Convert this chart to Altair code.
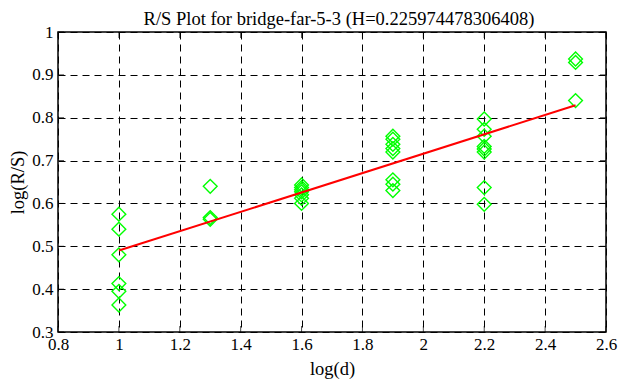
import altair as alt
import pandas as pd

# R/S points per log(d) group
d_groups = [1.0, 1.3, 1.6, 1.9, 2.2, 2.5]
rs_values = [
    [0.575, 0.540, 0.480, 0.413, 0.395, 0.363],
    [0.640, 0.567, 0.563],
    [0.643, 0.637, 0.632, 0.627, 0.620, 0.612, 0.600],
    [0.757, 0.750, 0.738, 0.728, 0.720, 0.655, 0.645, 0.630],
    [0.797, 0.773, 0.757, 0.733, 0.727, 0.720, 0.637, 0.598],
    [0.937, 0.929, 0.840],
]
# fitted line endpoints
fit_x = [1.0, 2.5]
fit_y = [0.490, 0.829]

x_ticks = [0.8, 1.0, 1.2, 1.4, 1.6, 1.8, 2.0, 2.2, 2.4, 2.6]
y_ticks = [0.3, 0.4, 0.5, 0.6, 0.7, 0.8, 0.9, 1.0]
title_text = ["R/S Plot for bridge-far-5-3 (H=0.225974478306408)"]

rows = []
for d, vals in zip(d_groups, rs_values):
    for v in vals:
        rows.append({"d": d, "rs": v})
pts = pd.DataFrame(rows)
fit = pd.DataFrame({"d": fit_x, "rs": fit_y})
xt = pd.DataFrame({"v": x_ticks})
yt = pd.DataFrame({"v": y_ticks})
tt = pd.DataFrame({"t": title_text})

FONT = "Liberation Serif"
W, H = 548, 300

xscale = alt.Scale(domain=[0.8, 2.6], nice=False, zero=False)
yscale = alt.Scale(domain=[0.3, 1.0], nice=False, zero=False)

xaxis = alt.Axis(values=x_ticks, title="log(d)", grid=True, gridColor="black",
                 gridDash=[7, 5], gridOpacity=1, gridWidth=1, ticks=False,
                 domain=False, labelPadding=4, labelFlush=False,
                 labelExpr="format(datum.value, '.2~f')", titlePadding=7,
                 labelFont=FONT, labelFontSize=17, labelColor="black",
                 titleFont=FONT, titleFontSize=18.5, titleFontWeight="normal", titleColor="black")
yaxis = alt.Axis(values=y_ticks, title="log(R/S)", grid=True, gridColor="black",
                 gridDash=[7, 5], gridOpacity=1, gridWidth=1, ticks=False,
                 domain=False, labelPadding=5, labelFlush=False,
                 labelExpr="format(datum.value, '.2~f')", titlePadding=4,
                 labelFont=FONT, labelFontSize=17, labelColor="black",
                 titleFont=FONT, titleFontSize=18.5, titleFontWeight="normal", titleColor="black")

points = alt.Chart(pts).mark_point(
    shape="diamond", size=190, filled=False, color="#00ff00", strokeWidth=1.4, opacity=1
).encode(
    x=alt.X("d:Q", scale=xscale, axis=xaxis),
    y=alt.Y("rs:Q", scale=yscale, axis=yaxis),
)

line = alt.Chart(fit).mark_line(color="#ff0000", strokeWidth=2).encode(
    x=alt.X("d:Q", scale=xscale),
    y=alt.Y("rs:Q", scale=yscale),
)

tick_bottom = alt.Chart(xt).mark_tick(color="black", size=6, thickness=1, orient="vertical").encode(
    x=alt.X("v:Q", scale=xscale), y=alt.value(H - 3))
tick_top = alt.Chart(xt).mark_tick(color="black", size=6, thickness=1, orient="vertical").encode(
    x=alt.X("v:Q", scale=xscale), y=alt.value(3))
tick_left = alt.Chart(yt).mark_tick(color="black", size=6, thickness=1, orient="horizontal").encode(
    y=alt.Y("v:Q", scale=yscale), x=alt.value(3))
tick_right = alt.Chart(yt).mark_tick(color="black", size=6, thickness=1, orient="horizontal").encode(
    y=alt.Y("v:Q", scale=yscale), x=alt.value(W - 3))

title = alt.Chart(tt).mark_text(
    font=FONT, fontSize=18.5, color="black", align="center", baseline="alphabetic"
).encode(text="t:N", x=alt.value(W / 2 + 7), y=alt.value(-7))

chart = alt.layer(points, line, tick_bottom, tick_top, tick_left, tick_right, title).properties(
    width=W, height=H,
    autosize=alt.AutoSizeParams(type="none"),
    padding={"left": 50, "top": 24, "right": 12, "bottom": 47},
    background="white",
).configure_view(
    stroke="black", strokeWidth=1.5
)

chart.save("out.html", embed_options={"renderer": "svg", "actions": False})
